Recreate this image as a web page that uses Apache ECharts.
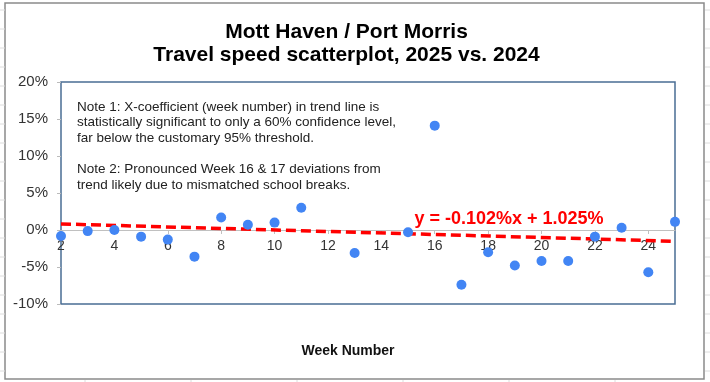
<!DOCTYPE html>
<html>
<head>
<meta charset="utf-8">
<script src="https://cdn.jsdelivr.net/npm/echarts@6/dist/echarts.min.js"></script>
<style>
html,body{margin:0;padding:0;background:#fff;}
#c{width:710px;height:382px;}
</style>
</head>
<body>
<div id="c"></div>
<script>
// ---- data ----
const weeks = [2,3,4,5,6,7,8,9,10,11,13,15,16,17,18,19,20,21,22,23,24,25];
const speedChange = [-0.8,-0.15,0.0,-0.9,-1.3,-3.6,1.7,0.7,1.0,3.0,-3.1,-0.3,14.1,-7.4,-3.0,-4.8,-4.2,-4.2,-0.9,0.3,-5.7,1.1];
const trendX = [2, 25];
const trendY = [0.821, -1.525];
const titleLines = ['Mott Haven / Port Morris', 'Travel speed scatterplot, 2025 vs. 2024'];
const noteText = 'Note 1: X-coefficient (week number) in trend line is\nstatistically significant to only a 60% confidence level,\nfar below the customary 95% threshold.\n\nNote 2: Pronounced Week 16 & 17 deviations from\ntrend likely due to mismatched school breaks.';
const equationText = 'y = -0.102%x + 1.025%';
const xAxisName = 'Week Number';

const FONT = '"Liberation Sans", Arial, sans-serif';
const chart = echarts.init(document.getElementById('c'));

// spreadsheet background lines (decoration outside the chart frame)
const deco = [];
for (let y = 10; y < 382; y += 19) {
  deco.push({type:'line', shape:{x1:0,y1:y,x2:5,y2:y}, style:{stroke:'#dcdcdc',lineWidth:1}, silent:true});
  deco.push({type:'line', shape:{x1:705,y1:y,x2:710,y2:y}, style:{stroke:'#dcdcdc',lineWidth:1}, silent:true});
}
for (let x = 85; x < 710; x += 106) {
  deco.push({type:'line', shape:{x1:x,y1:380,x2:x,y2:382}, style:{stroke:'#dcdcdc',lineWidth:1}, silent:true});
}

const GRID_TOP = 82, GRID_BOTTOM_Y = 304, Y_MIN = -10, Y_MAX = 20;
// shift x axis up so it sits at y = 0
const zeroOffset = -(GRID_BOTTOM_Y - GRID_TOP) * (0 - Y_MIN) / (Y_MAX - Y_MIN);

chart.setOption({
  animation: false,
  backgroundColor: '#fff',
  grid: {
    left: 61, right: 35, top: GRID_TOP, bottom: 382 - GRID_BOTTOM_Y,
    containLabel: false, outerBoundsMode: 'none',
    show: true, borderColor: '#4a6d94', borderWidth: 1.5, backgroundColor: 'transparent'
  },
  xAxis: {
    type: 'value', min: 2, max: 25, interval: 2,
    position: 'bottom', offset: zeroOffset,
    axisLine: {onZero: false, lineStyle: {color: '#c0c0c0', width: 1}},
    axisTick: {show: true, length: 4, lineStyle: {color: '#c0c0c0'}},
    axisLabel: {fontFamily: FONT, fontSize: 14, color: '#333', margin: 9, showMaxLabel: false},
    splitLine: {show: false}
  },
  yAxis: {
    type: 'value', min: Y_MIN, max: Y_MAX, interval: 5,
    axisLine: {show: false},
    axisTick: {show: true, length: 4, lineStyle: {color: '#bbb'}},
    axisLabel: {fontFamily: FONT, fontSize: 15, color: '#333', margin: 13, formatter: v => v + '%'},
    splitLine: {show: false}
  },
  series: [
    {
      type: 'line',
      data: trendX.map((x, i) => [x, trendY[i]]),
      symbol: 'none',
      lineStyle: {color: '#ff0000', width: 3.5, type: [10, 5]},
      z: 2
    },
    {
      type: 'scatter',
      data: weeks.map((w, i) => [w, speedChange[i]]),
      symbolSize: 10,
      itemStyle: {color: '#4285f4', opacity: 1},
      z: 3
    }
  ],
  graphic: deco.concat([
    {type:'rect', shape:{x:5,y:3,width:699,height:376}, style:{fill:'none', stroke:'#8a8a8a', lineWidth:1.5}, silent:true, z:-1},
    {type:'text', x:346.5, y:32, style:{text:titleLines[0], font:'bold 21px ' + FONT, fill:'#000', textAlign:'center', textVerticalAlign:'middle'}},
    {type:'text', x:346.5, y:55, style:{text:titleLines[1], font:'bold 21px ' + FONT, fill:'#000', textAlign:'center', textVerticalAlign:'middle'}},
    {type:'text', x:77, y:99, style:{text:noteText, font:'13.5px ' + FONT, fill:'#222', lineHeight:15.6}},
    {type:'text', x:509, y:219, style:{text:equationText, font:'bold 18px ' + FONT, fill:'#ff0000', textAlign:'center', textVerticalAlign:'middle'}},
    {type:'text', x:348, y:351, style:{text:xAxisName, font:'bold 14px ' + FONT, fill:'#111', textAlign:'center', textVerticalAlign:'middle'}}
  ])
});
</script>
</body>
</html>
